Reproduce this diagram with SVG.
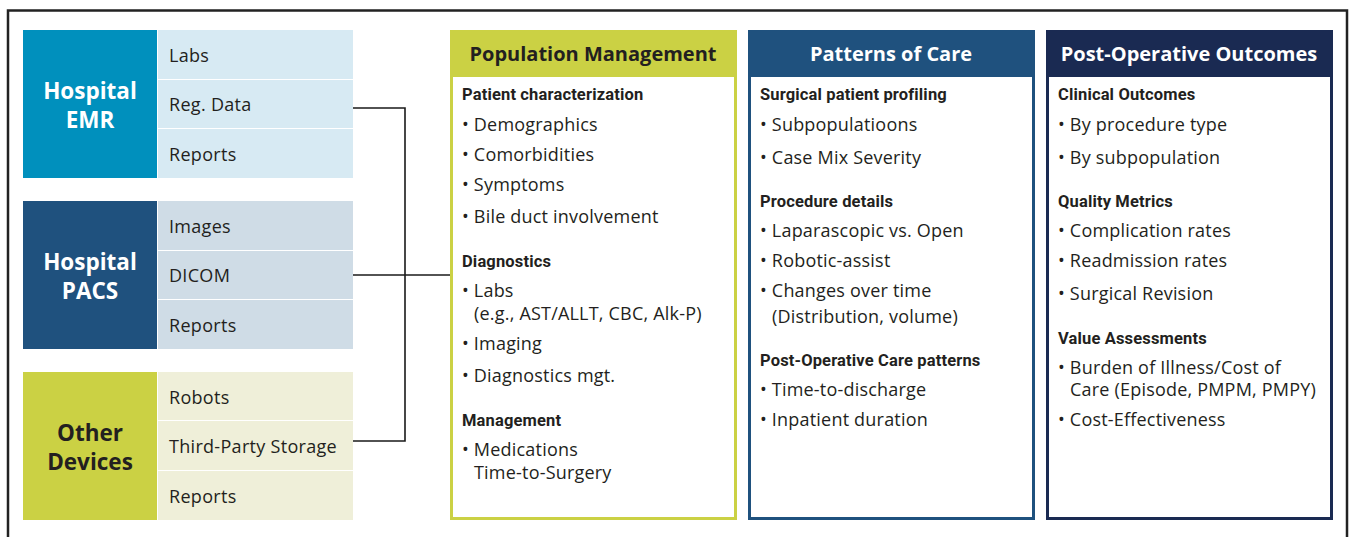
<svg xmlns="http://www.w3.org/2000/svg" width="1354" height="537" viewBox="0 0 1354 537">
<style>
.big{font-family:"Open Sans","Liberation Sans",sans-serif;font-weight:700;font-size:22.5px;text-anchor:middle}
.cell{font-family:"Open Sans","Liberation Sans",sans-serif;font-size:18px;letter-spacing:0.3px;fill:#231f20}
.hd{font-family:"Open Sans","Liberation Sans",sans-serif;font-weight:700;font-size:20px;text-anchor:middle}
.sub{font-family:"Roboto","Liberation Sans",sans-serif;font-weight:700;font-size:16.5px;letter-spacing:0.15px;fill:#231f20}
.txt{font-family:"Open Sans","Liberation Sans",sans-serif;font-size:18px;letter-spacing:0.2px;fill:#231f20}
.conn{fill:none;stroke:#1a1a1a;stroke-width:1.6}
</style>
<rect x="0" y="0" width="1354" height="537" fill="#ffffff"/>
<rect x="8" y="10.5" width="1339" height="545" fill="none" stroke="#222" stroke-width="2.5"/>

<g id="connectors">
<path class="conn" d="M353 108 H405 V441 H353"/>
<path class="conn" d="M353 275 H450"/>
</g>

<g id="hospital-emr">
<rect x="23" y="30" width="134" height="148" fill="#0090bd"/>
<text class="big" x="90" y="99" fill="#fff">Hospital</text>
<text class="big" x="90" y="128" fill="#fff">EMR</text>
<rect x="158" y="30" width="195" height="49" fill="#d7eaf3"/>
<rect x="158" y="80" width="195" height="48" fill="#d7eaf3"/>
<rect x="158" y="129" width="195" height="49" fill="#d7eaf3"/>
<text class="cell" x="169" y="62">Labs</text>
<text class="cell" x="169" y="111">Reg. Data</text>
<text class="cell" x="169" y="161">Reports</text>
</g>

<g id="hospital-pacs">
<rect x="23" y="201" width="134" height="148" fill="#1f517e"/>
<text class="big" x="90" y="270" fill="#fff">Hospital</text>
<text class="big" x="90" y="299" fill="#fff">PACS</text>
<rect x="158" y="201" width="195" height="49" fill="#cfdce6"/>
<rect x="158" y="251" width="195" height="48" fill="#cfdce6"/>
<rect x="158" y="300" width="195" height="49" fill="#cfdce6"/>
<text class="cell" x="169" y="233">Images</text>
<text class="cell" x="169" y="282">DICOM</text>
<text class="cell" x="169" y="332">Reports</text>
</g>

<g id="other-devices">
<rect x="23" y="372" width="134" height="148" fill="#cbd144"/>
<text class="big" x="90" y="441" fill="#231f20">Other</text>
<text class="big" x="90" y="470" fill="#231f20">Devices</text>
<rect x="158" y="372" width="195" height="48" fill="#efefd9"/>
<rect x="158" y="421" width="195" height="49" fill="#efefd9"/>
<rect x="158" y="471" width="195" height="49" fill="#efefd9"/>
<text class="cell" x="169" y="404">Robots</text>
<text class="cell" x="169" y="453">Third-Party Storage</text>
<text class="cell" x="169" y="503">Reports</text>
</g>

<g id="population-management">
<rect x="451.5" y="31.5" width="284" height="487" fill="#fff" stroke="#cbd144" stroke-width="3"/>
<rect x="450" y="30" width="287" height="47" fill="#cbd144"/>
<text class="hd" x="593" y="61" fill="#231f20">Population Management</text>
<text class="sub" x="462" y="100">Patient characterization</text>
<text class="txt" x="462" y="131">• Demographics</text>
<text class="txt" x="462" y="161">• Comorbidities</text>
<text class="txt" x="462" y="191">• Symptoms</text>
<text class="txt" x="462" y="223">• Bile duct involvement</text>
<text class="sub" x="462" y="267">Diagnostics</text>
<text class="txt" x="462" y="297">• Labs</text>
<text class="txt" x="474" y="320">(e.g., AST/ALLT, CBC, Alk-P)</text>
<text class="txt" x="462" y="350">• Imaging</text>
<text class="txt" x="462" y="382">• Diagnostics mgt.</text>
<text class="sub" x="462" y="426">Management</text>
<text class="txt" x="462" y="456">• Medications</text>
<text class="txt" x="474" y="479">Time-to-Surgery</text>
</g>

<g id="patterns-of-care">
<rect x="749.5" y="31.5" width="284" height="487" fill="#fff" stroke="#1f517e" stroke-width="3"/>
<rect x="748" y="30" width="287" height="47" fill="#1f517e"/>
<text class="hd" x="891" y="61" fill="#fff">Patterns of Care</text>
<text class="sub" x="760" y="100">Surgical patient profiling</text>
<text class="txt" x="760" y="131">• Subpopulatioons</text>
<text class="txt" x="760" y="164">• Case Mix Severity</text>
<text class="sub" x="760" y="207">Procedure details</text>
<text class="txt" x="760" y="237">• Laparascopic vs. Open</text>
<text class="txt" x="760" y="267">• Robotic-assist</text>
<text class="txt" x="760" y="297">• Changes over time</text>
<text class="txt" x="772" y="323">(Distribution, volume)</text>
<text class="sub" x="760" y="366">Post-Operative Care patterns</text>
<text class="txt" x="760" y="396">• Time-to-discharge</text>
<text class="txt" x="760" y="426">• Inpatient duration</text>
</g>

<g id="post-operative-outcomes">
<rect x="1047.5" y="31.5" width="284" height="487" fill="#fff" stroke="#1a2a52" stroke-width="3"/>
<rect x="1046" y="30" width="287" height="47" fill="#1a2a52"/>
<text class="hd" x="1189" y="61" fill="#fff">Post-Operative Outcomes</text>
<text class="sub" x="1058" y="100">Clinical Outcomes</text>
<text class="txt" x="1058" y="131">• By procedure type</text>
<text class="txt" x="1058" y="164">• By subpopulation</text>
<text class="sub" x="1058" y="207">Quality Metrics</text>
<text class="txt" x="1058" y="237">• Complication rates</text>
<text class="txt" x="1058" y="267">• Readmission rates</text>
<text class="txt" x="1058" y="300">• Surgical Revision</text>
<text class="sub" x="1058" y="344">Value Assessments</text>
<text class="txt" x="1058" y="374">• Burden of Illness/Cost of</text>
<text class="txt" x="1070" y="396">Care (Episode, PMPM, PMPY)</text>
<text class="txt" x="1058" y="426">• Cost-Effectiveness</text>
</g>
</svg>
